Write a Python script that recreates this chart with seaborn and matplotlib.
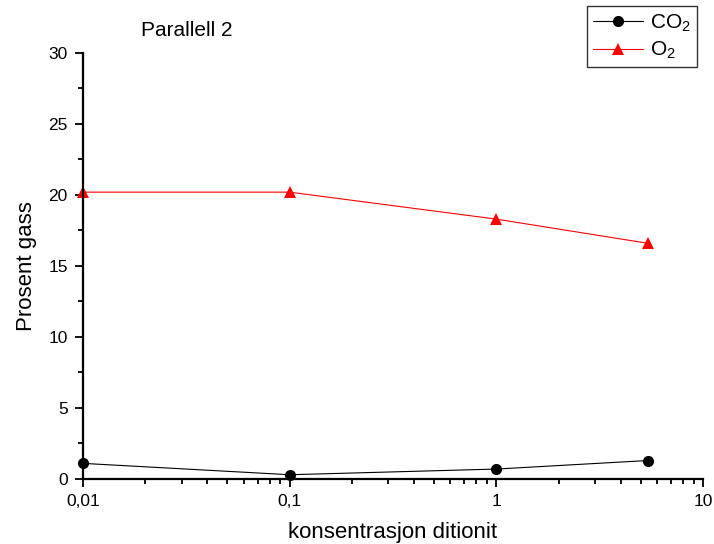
import matplotlib
matplotlib.use("Agg")
import matplotlib.pyplot as plt
import matplotlib.ticker as mticker
import seaborn as sns
import pandas as pd

# Measured gas fractions vs. dithionite concentration
konsentrasjon = [0.01, 0.1, 1.0, 5.4]
co2 = [1.1, 0.3, 0.7, 1.3]
o2 = [20.2, 20.2, 18.3, 16.6]
x_ticks = [0.01, 0.1, 1, 10]
x_tick_labels = ["0,01", "0,1", "1", "10"]

sns.set_theme(style="ticks")
plt.rcParams["font.family"] = ["Liberation Sans", "DejaVu Sans"]
plt.rcParams["mathtext.fontset"] = "custom"
plt.rcParams["mathtext.rm"] = "Liberation Sans"
plt.rcParams["text.color"] = "black"
plt.rcParams["axes.labelcolor"] = "black"

df = pd.DataFrame({
    "konsentrasjon": konsentrasjon * 2,
    "gass": co2 + o2,
    "serie": ["CO2"] * len(co2) + ["O2"] * len(o2),
})

fig = plt.figure(figsize=(7.14, 5.44), dpi=100)
ax = fig.add_axes([0.1162, 0.1195, 0.8684, 0.7831])

sns.lineplot(
    data=df, x="konsentrasjon", y="gass", hue="serie", style="serie",
    palette={"CO2": "black", "O2": "red"},
    markers={"CO2": "o", "O2": "^"}, dashes=False,
    markersize=8, linewidth=0.8, markeredgewidth=0,
    ax=ax, legend=False, clip_on=False,
)

ax.set_xscale("log")
ax.set_xlim(0.01, 10)
ax.set_ylim(0, 30)
ax.set_xticks(x_ticks)
ax.set_xticklabels(x_tick_labels)
ax.xaxis.set_minor_locator(mticker.LogLocator(base=10, subs=range(2, 10)))
ax.xaxis.set_minor_formatter(mticker.NullFormatter())
ax.set_yticks([0, 5, 10, 15, 20, 25, 30])
ax.yaxis.set_minor_locator(mticker.MultipleLocator(2.5))

for s in ["top", "right"]:
    ax.spines[s].set_visible(False)
for s in ["left", "bottom"]:
    ax.spines[s].set_linewidth(1.6)
    ax.spines[s].set_color("black")
ax.tick_params(which="major", direction="out", length=6, width=1.3, labelsize=12.5, colors="black", pad=5)
ax.tick_params(which="minor", direction="out", length=3.5, width=1.3, colors="black")

ax.set_xlabel("konsentrasjon ditionit", fontsize=16, labelpad=9)
ax.set_ylabel("Prosent gass", fontsize=16, labelpad=8)

fig.text(187 / 714, 1 - 30 / 544, "Parallell 2", fontsize=15, ha="center", va="center")

handles = [
    plt.Line2D([], [], color="black", marker="o", markersize=8, markeredgewidth=0, linewidth=0.8),
    plt.Line2D([], [], color="red", marker="^", markersize=8, markeredgewidth=0, linewidth=0.8),
]
leg = fig.legend(
    handles, [r"$\mathregular{CO_2}$", r"$\mathregular{O_2}$"],
    loc="upper left", bbox_to_anchor=(587 / 714, 1 - 6 / 544),
    frameon=True, fancybox=False, edgecolor="black", fontsize=15,
    handlelength=2.4, handletextpad=0.3, borderpad=0.3, labelspacing=0.3,
    borderaxespad=0,
)
leg.get_frame().set_linewidth(1.0)

fig.savefig("out.png", dpi=100)
